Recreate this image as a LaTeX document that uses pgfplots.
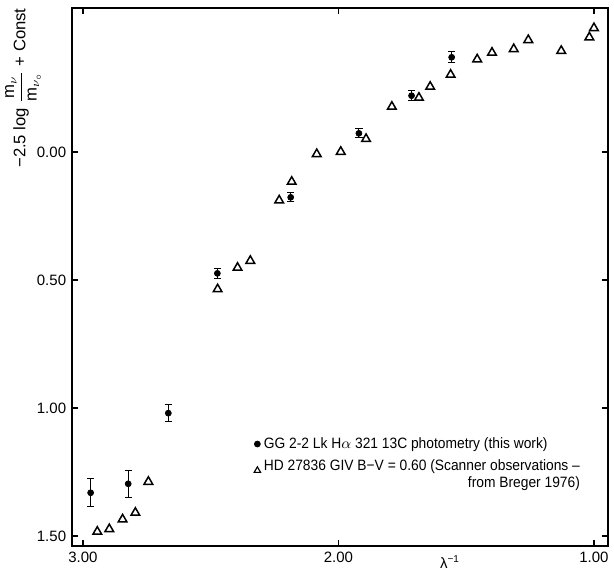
\documentclass[border=0pt]{standalone}
\usepackage{amsmath}
\usepackage{fontspec}
\setmainfont{Liberation Sans}
\newfontfamily\legfont[FakeStretch=0.92]{Liberation Sans}
\usepackage{pgfplots}
\pgfplotsset{compat=1.18}
\usetikzlibrary{calc}
\begin{document}
\begin{tikzpicture}
\begin{axis}[
    scale only axis,
    width=321.6pt, height=322.8pt,
    x dir=reverse, y dir=reverse,
    xmin=0.945, xmax=3.043,
    ymin=-0.5625, ymax=1.539,
    xtick={1,2,3}, xticklabels={1.00,2.00,3.00},
    ytick={0,0.5,1,1.5}, yticklabels={0.00,0.50,1.00,1.50},
    tick align=inside, major tick length=3.5pt,
    axis line style={line width=0.9pt},
    tick style={line width=0.7pt, black},
    ticklabel style={font=\fontsize{9}{11}\selectfont},
    legend style={at={(0.33,0.215)}, anchor=north west, draw=none, fill=none,
        font=\legfont\fontsize{9}{10}\selectfont, cells={anchor=west}, row sep=1pt},
    clip=false,
]
% filled points with error bars (this work)
\addplot[only marks, mark=*, mark size=1.8pt, black,
    error bars/.cd, y dir=both, y explicit,
    error mark options={rotate=90, mark size=2.2pt, line width=0.6pt},
    error bar style={line width=0.7pt}]
coordinates {
    (2.970,1.331) +- (0,0.055)
    (2.823,1.296) +- (0,0.052)
    (2.666,1.020) +- (0,0.034)
    (2.474,0.474) +- (0,0.020)
    (2.187,0.177) +- (0,0.017)
    (1.920,-0.073) +- (0,0.017)
    (1.714,-0.220) +- (0,0.020)
    (1.557,-0.370) +- (0,0.021)
};
\addlegendentry{GG 2-2 Lk H$\alpha$ 321 13C photometry (this work)}

% scanner observations
\addplot[only marks, mark=triangle, mark size=3pt, black, mark options={line width=0.9pt},
    legend image post style={mark size=2.2pt, mark options={line width=0.7pt}}]
coordinates {
    (2.944,1.483) (2.897,1.473) (2.845,1.435) (2.795,1.409) (2.744,1.288)
    (2.473,0.536) (2.395,0.452) (2.345,0.425) (2.232,0.189) (2.183,0.116)
    (2.085,0.008) (1.991,-0.001) (1.892,-0.051) (1.791,-0.177) (1.685,-0.212)
    (1.641,-0.255) (1.561,-0.302) (1.457,-0.362) (1.399,-0.388) (1.314,-0.402)
    (1.257,-0.4375) (1.128,-0.395) (1.018,-0.448) (1.000,-0.484)
};
\addlegendentry{\begin{tabular}{@{}r@{}}HD 27836 GIV B−V = 0.60 (Scanner observations –\\from Breger 1976)\end{tabular}}

\node[rotate=90, font=\fontsize{10}{12}\selectfont] at ([xshift=-29.4pt,yshift=-48pt]axis description cs:0,1)
    {−2.5 log $\dfrac{\mathrm{m}_{\nu}}{\mathrm{m}_{\nu_\circ}}$ + Const};
\node[anchor=north, font=\fontsize{9}{11}\selectfont] at ([yshift=-2pt]axis description cs:0.705,0) {λ\textsuperscript{−1}};
\end{axis}
\pgfresetboundingbox
\path ($(current axis.south west)+(-43.2pt,-15pt)$) rectangle ($(current axis.north east)+(3.6pt,4.8pt)$);
\end{tikzpicture}
\end{document}
